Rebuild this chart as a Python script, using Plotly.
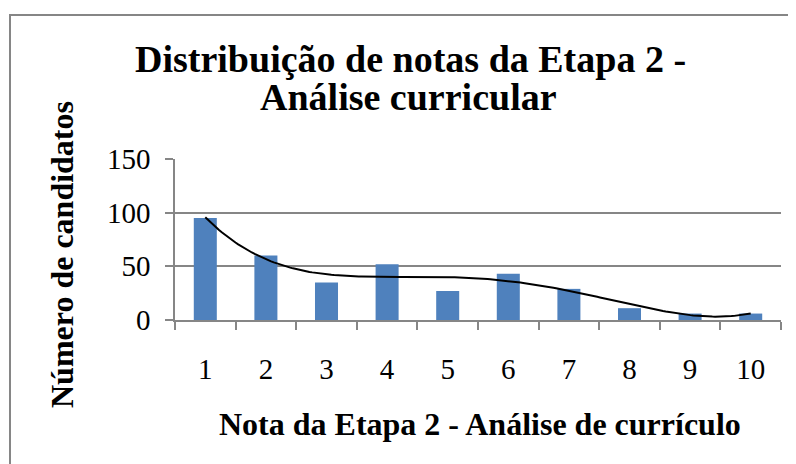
import numpy as np
import plotly.graph_objects as go

notas = [1, 2, 3, 4, 5, 6, 7, 8, 9, 10]
candidatos = [95, 60, 35, 52, 27, 43, 29, 11, 6, 6]
y_ticks = [0, 50, 100, 150]
trend_order = 4

# page body margin offset (8px) compensated
OFF = 8
W, H = 796 - OFF, 464 - OFF
L, T = 175 - OFF, 159 - OFF
R = W - (781 - OFF)
B = H - (320 - OFF)
pw, ph = W - L - R, H - T - B

def px(x):
    return (x - OFF - L) / pw

def py(y):
    return (H - B - (y - OFF)) / ph

coef = np.polyfit(notas, candidatos, trend_order)
xs = np.linspace(min(notas), max(notas), 200)
ys = np.polyval(coef, xs)

serif = "Liberation Serif, Times New Roman, serif"
grid = "#868686"

fig = go.Figure()
fig.add_trace(go.Bar(x=notas, y=candidatos, marker=dict(color="#4F81BD", line=dict(width=0)),
                     showlegend=False))
fig.add_trace(go.Scatter(x=xs, y=ys, mode="lines", line=dict(color="black", width=2),
                         showlegend=False, cliponaxis=False))

fig.update_layout(
    width=W, height=H, margin=dict(l=L, r=R, t=T, b=B),
    paper_bgcolor="white", plot_bgcolor="white", bargap=0.62,
    font=dict(family=serif, color="black", size=28),
    xaxis=dict(range=[0.5, 10.5], tickvals=notas, ticktext=[str(n) for n in notas],
               ticks="", showgrid=False, zeroline=False, showline=True,
               linecolor=grid, linewidth=1.5, ticklabelstandoff=22,
               tickfont=dict(family=serif, size=29, color="black"),
               minor=dict(tick0=0.5, dtick=1, ticks="outside", ticklen=8,
                          tickcolor=grid, tickwidth=1.5, showgrid=False)),
    yaxis=dict(range=[0, 150], tickvals=y_ticks, ticks="outside", ticklen=8,
               tickcolor=grid, tickwidth=1.5, showline=True, linecolor=grid, linewidth=1.5,
               showgrid=True, gridcolor=grid, gridwidth=1.5, zeroline=False,
               ticklabelstandoff=9,
               tickfont=dict(family=serif, size=29, color="black")),
    annotations=[
        dict(text="<b>Distribuição de notas da Etapa 2 -</b>",
             xref="paper", yref="paper", x=px(410), y=py(59), xanchor="center",
             yanchor="middle", showarrow=False,
             font=dict(family=serif, size=38, color="black")),
        dict(text="<b>Análise curricular</b>",
             xref="paper", yref="paper", x=px(408), y=py(97), xanchor="center",
             yanchor="middle", showarrow=False,
             font=dict(family=serif, size=38, color="black")),
        dict(text="<b>Nota da Etapa 2 - Análise de currículo</b>",
             xref="paper", yref="paper", x=px(480), y=py(424), xanchor="center",
             yanchor="middle", showarrow=False,
             font=dict(family=serif, size=32, color="black")),
        dict(text="<b>Número de candidatos</b>", textangle=-90,
             xref="paper", yref="paper", x=px(62), y=py(255), xanchor="center",
             yanchor="middle", showarrow=False,
             font=dict(family=serif, size=32, color="black")),
    ],
    shapes=[
        dict(type="rect", xref="paper", yref="paper", x0=px(10), y0=py(480),
             x1=px(810), y1=py(15), line=dict(color=grid, width=2), layer="below"),
    ],
)

fig.write_html("out.html")
